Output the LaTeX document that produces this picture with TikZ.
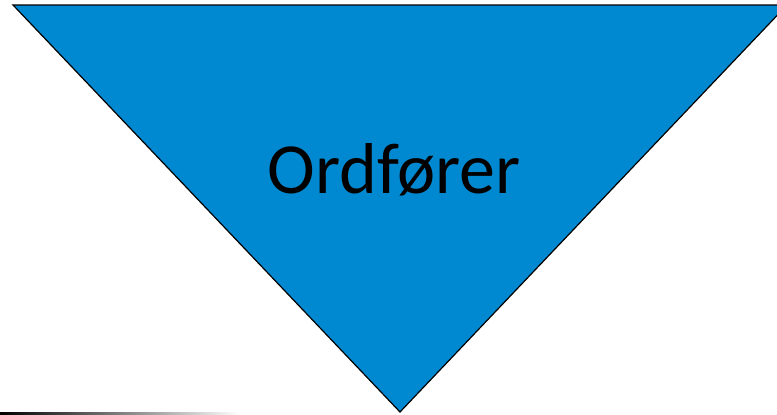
\documentclass[tikz,border=0pt]{standalone}
\usepackage{fontspec}
\setmainfont{Carlito}
\definecolor{tri}{RGB}{0,137,208}
\begin{document}
\begin{tikzpicture}[x=1pt,y=-1pt]
\useasboundingbox (0,0) rectangle (777,415);
\clip (0,0) rectangle (777,415);
\coordinate (tl) at (13,5);
\coordinate (tr) at (787,5);
\coordinate (bt) at (400,412);
\draw[fill=tri,draw=black,line width=1.2pt,line join=miter] (tl) -- (tr) -- (bt) -- cycle;
\node[font=\fontsize{72}{80}\selectfont,inner sep=0pt] (lbl) at (394,170) {Ordfører};
\shade[left color=black,right color=white] (0,412.5) rectangle (240,414.5);
\end{tikzpicture}
\end{document}
